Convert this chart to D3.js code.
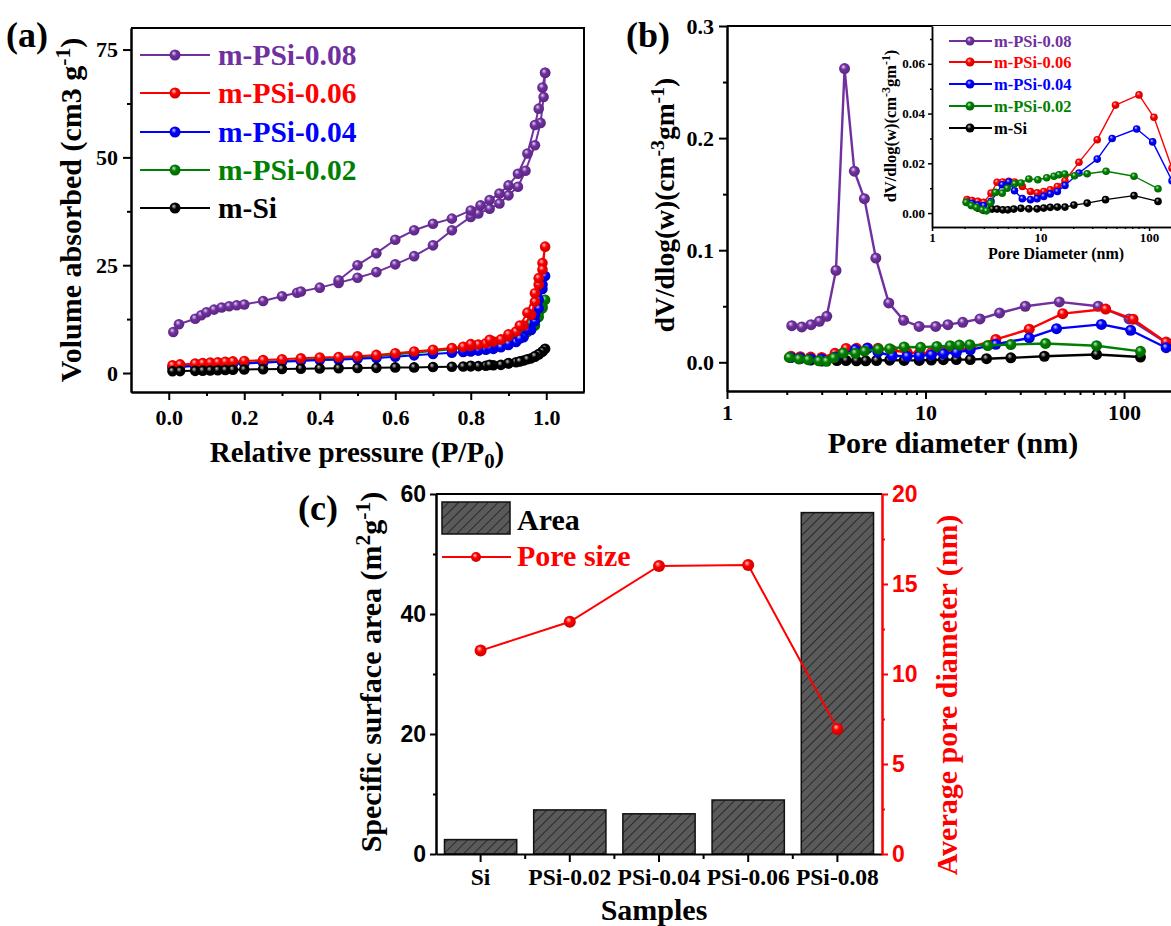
<!DOCTYPE html>
<html><head><meta charset="utf-8">
<script src="https://cdn.jsdelivr.net/npm/d3@7"></script>
<style>body{margin:0;background:#fff;}svg{display:block;}</style>
</head><body>
<svg id="fig" width="1171" height="926"></svg>
<script>
// ================= DATA =================
// ---- Panel (a): N2 adsorption-desorption isotherms ----
const isoLabels = ["m-PSi-0.08", "m-PSi-0.06", "m-PSi-0.04", "m-PSi-0.02", "m-Si"];
const p08AdsP = [0.012,0.027,0.07,0.086,0.10,0.12,0.14,0.16,0.18,0.20,0.25,0.30,0.34,0.35,0.40,0.45,0.50,0.55,0.60,0.65,0.70,0.75,0.80,0.82,0.85,0.876,0.90,0.925,0.945,0.97,0.985,0.993,0.997];
const p08AdsV = [9.5,11.3,12.6,13.4,14.1,14.7,15.2,15.5,15.7,15.9,16.7,17.8,18.6,18.9,19.8,20.9,22.1,23.4,25.2,27.1,29.6,33.1,36.2,37.0,38.1,39.3,41.2,43.2,46.9,52.8,58.0,64.0,69.6];
const p08DesP = [0.997,0.99,0.98,0.97,0.95,0.925,0.90,0.876,0.85,0.826,0.80,0.75,0.70,0.65,0.60,0.55,0.50,0.45];
const p08DesV = [69.6,66.2,61.3,57.5,50.9,46.2,43.5,41.6,40.1,38.9,37.7,35.8,34.6,33.1,30.9,27.8,25.0,21.5];
const lowAdsP = [0.01,0.03,0.07,0.09,0.11,0.13,0.15,0.17,0.20,0.25,0.30,0.35,0.40,0.45,0.50,0.55,0.60,0.65,0.70,0.75,0.78,0.80,0.82,0.84,0.86,0.88,0.90,0.92,0.94,0.96,0.97,0.98,0.99,0.997];
const p06AdsV = [1.8,2.0,2.2,2.3,2.4,2.5,2.6,2.7,2.8,3.0,3.2,3.4,3.6,3.7,3.9,4.2,4.6,5.0,5.4,5.8,6.1,6.3,6.6,6.9,7.3,7.8,8.5,9.6,11.0,13.5,16.5,20.5,25.5,29.3];
const p04AdsV = [1.2,1.4,1.6,1.7,1.8,1.9,2.0,2.1,2.2,2.4,2.6,2.8,3.0,3.1,3.3,3.5,3.8,4.1,4.4,4.7,4.9,5.0,5.2,5.4,5.6,6.0,6.5,7.2,8.3,10.0,12.0,15.0,19.5,22.5];
const p02AdsV = [1.4,1.6,1.8,1.9,2.0,2.1,2.2,2.3,2.4,2.6,2.8,3.0,3.2,3.4,3.6,3.9,4.3,4.7,5.1,5.5,5.8,6.0,6.3,6.6,7.0,7.5,8.2,9.0,10.0,11.5,12.5,14.0,15.5,17.0];
const siAdsV  = [0.4,0.45,0.5,0.55,0.6,0.65,0.7,0.75,0.8,0.9,0.95,1.0,1.05,1.1,1.15,1.2,1.3,1.3,1.4,1.45,1.5,1.55,1.6,1.7,1.8,1.9,2.2,2.5,2.9,3.4,3.8,4.3,5.0,5.6];
const lowDesP = [0.99,0.98,0.97,0.95,0.93,0.90,0.85,0.80];
const p06DesV = [24.0,22.0,18.5,14.0,11.0,9.0,7.7,6.7];
const p04DesV = [20.5,17.0,13.5,10.0,8.0,6.8,5.8,5.2];
const p02DesV = [15.0,13.0,11.0,9.5,8.6,7.8,6.8,6.1];
const siDesV  = [5.0,4.4,3.9,3.2,2.7,2.3,1.9,1.7];
const aXTicks = [0, 0.2, 0.4, 0.6, 0.8, 1.0];
const aXMinor = [0.1, 0.3, 0.5, 0.7, 0.9];
const aYTicks = [0, 25, 50, 75];
const aYMinor = [12.5, 37.5, 62.5];

// ---- Panel (b): pore size distribution ----
const p08D = [2.12,2.38,2.65,2.92,3.18,3.54,3.91,4.38,4.92,5.62,6.53,7.75,9.28,11.25,12.96,15.4,18.8,23.6,31.8,47.2,74.1,106,164];
const p08Dv = [0.0327,0.0316,0.0336,0.0366,0.041,0.082,0.262,0.1705,0.146,0.093,0.053,0.0375,0.032,0.032,0.0336,0.0357,0.0387,0.044,0.050,0.0539,0.050,0.0387,0.0173];
const p06D = [2.1,2.34,2.64,3.0,3.5,3.98,4.49,5.1,5.76,6.8,8.08,9.3,10.7,12.3,14.3,16.8,22.6,33.3,49.1,80.8,111,163];
const p06Dv = [0.0054,0.005,0.0047,0.0043,0.008,0.0124,0.0125,0.0128,0.0125,0.0107,0.0087,0.0081,0.0087,0.0094,0.0107,0.013,0.0204,0.0295,0.0434,0.0475,0.0385,0.018];
const p04D = [2.1,2.34,2.64,3.0,3.5,4.43,5.1,5.76,6.8,8.08,9.3,10.7,12.3,14.3,16.8,22.6,33.3,45.7,76.9,108,163];
const p04Dv = [0.0043,0.0039,0.0032,0.003,0.0047,0.0114,0.0125,0.009,0.0058,0.0054,0.0058,0.0067,0.0077,0.0087,0.0111,0.0161,0.0217,0.030,0.0338,0.0286,0.013];
const p02D = [2.06,2.3,2.56,2.9,3.17,3.45,3.84,4.43,4.93,5.78,6.6,7.8,9.45,11.4,13.3,14.8,16.7,20.6,26.9,40.2,72.7,121];
const p02Dv = [0.0043,0.003,0.0023,0.0013,0.0009,0.004,0.0083,0.008,0.010,0.0118,0.0121,0.0137,0.0134,0.0142,0.0148,0.0154,0.0157,0.015,0.0158,0.0168,0.0148,0.0098];
const siD = [2.1,2.34,2.64,3.0,3.58,3.98,4.49,5.0,5.67,6.6,7.8,9.3,10.7,12.3,14.3,16.8,20.3,26.9,39.7,72.7,121];
const siDv = [0.0043,0.0032,0.002,0.0011,0.0016,0.0016,0.0013,0.0013,0.0016,0.0019,0.0017,0.0017,0.002,0.0023,0.0024,0.0024,0.0032,0.004,0.0054,0.007,0.0047];
const bXTicks = [1, 10, 100];
const bXMinor = [2,3,4,5,6,7,8,9,20,30,40,50,60,70,80,90];
const bYTicks = [0, 0.1, 0.2, 0.3];
const bYMinor = [0.05, 0.15, 0.25];
const iYTicks = [0, 0.02, 0.04, 0.06];
const iYMinor = [0.01, 0.03, 0.05, 0.07];

// ---- Panel (c): surface area and pore size ----
const samples = ["Si", "PSi-0.02", "PSi-0.04", "PSi-0.06", "PSi-0.08"];
const surfaceArea = [2.4, 7.35, 6.7, 9.0, 56.9];
const poreSize = [11.3, 12.9, 16.0, 16.05, 6.95];
const cLTicks = [0, 20, 40, 60];
const cLMinor = [10, 30, 50];
const cRTicks = [0, 5, 10, 15, 20];
const cRMinor = [2.5, 7.5, 12.5, 17.5];

// ================= DRAWING =================
const SERIF = "'Liberation Serif','Times New Roman',serif";
const SANS = "'Liberation Sans',Arial,sans-serif";
const COL = {p08:"#7030a0", p06:"#ff0000", p04:"#0000ff", p02:"#008000", si:"#000000"};
const svg = d3.select("#fig");
svg.append("rect").attr("width",1171).attr("height",926).attr("fill","#fff");
const defs = svg.append("defs");

function ballGrad(id, color){
  const g = defs.append("radialGradient").attr("id",id)
    .attr("cx","45%").attr("cy","45%").attr("r","60%").attr("fx","38%").attr("fy","32%");
  g.append("stop").attr("offset","0%").attr("stop-color", d3.interpolateRgb(color,"#fff")(0.8));
  g.append("stop").attr("offset","40%").attr("stop-color", color);
  g.append("stop").attr("offset","100%").attr("stop-color", d3.color(color).darker(0.7));
}
Object.entries(COL).forEach(([k,c]) => ballGrad("ball-"+k, c));

const hatch = defs.append("pattern").attr("id","hatch").attr("patternUnits","userSpaceOnUse")
  .attr("width",7).attr("height",7).attr("patternTransform","rotate(45)");
hatch.append("rect").attr("width",7).attr("height",7).attr("fill","#5a5a5a");
hatch.append("line").attr("x1",0).attr("y1",0).attr("x2",0).attr("y2",7).attr("stroke","#2a2a2a").attr("stroke-width",2);

function series(g, xs, ys, x, y, key, r, lw){
  const pts = xs.map((v,i)=>[x(v), y(ys[i])]);
  g.append("path").attr("d", d3.line()(pts)).attr("fill","none")
    .attr("stroke",COL[key]).attr("stroke-width",lw).attr("stroke-linejoin","round");
  g.selectAll(null).data(pts).join("circle").attr("cx",d=>d[0]).attr("cy",d=>d[1]).attr("r",r)
    .attr("fill","url(#ball-"+key+")");
}

function styleAxis(g, size, font, color, lw, noText){
  g.attr("font-family",font).attr("font-size",size).attr("font-weight","bold").attr("color",color);
  g.selectAll("line").attr("stroke-width",lw);
  g.select(".domain").attr("stroke-width",lw);
  if(noText) g.selectAll("text").remove();
}

function rich(g, x, y, parts, o){
  const t = g.append("text").attr("x",x).attr("y",y).attr("font-family",o.font||SERIF)
    .attr("font-weight","bold").attr("font-size",o.size).attr("fill",o.color||"#000")
    .attr("text-anchor",o.anchor||"middle");
  if(o.rotate) t.attr("transform",`rotate(${o.rotate},${x},${y})`);
  let shift = 0;
  parts.forEach(p=>{
    const s = t.append("tspan").text(p.t);
    let target = 0, fs = o.size;
    if(p.sup){ target = -0.38*o.size; fs = 0.72*o.size; }
    if(p.sub){ target = 0.2*o.size; fs = 0.72*o.size; }
    s.attr("font-size",fs);
    if(target!==shift){ s.attr("dy", target-shift); shift = target; }
  });
  return t;
}

// ---------- Panel (a) ----------
{
  const x = d3.scaleLinear([-0.1,1.1],[131,584]);
  const y = d3.scaleLinear([-4.4,80],[392,28]);
  const g = svg.append("g");
  const data = g.append("g");
  series(data, p08AdsP.concat(p08DesP), p08AdsV.concat(p08DesV), x, y, "p08", 5.3, 2);
  series(data, lowAdsP.concat(lowDesP), p02AdsV.concat(p02DesV), x, y, "p02", 5.3, 2);
  series(data, lowAdsP.concat(lowDesP), p04AdsV.concat(p04DesV), x, y, "p04", 5.3, 2);
  series(data, lowAdsP.concat(lowDesP), p06AdsV.concat(p06DesV), x, y, "p06", 5.3, 2);
  series(data, lowAdsP.concat(lowDesP), siAdsV.concat(siDesV), x, y, "si", 5.3, 2);

  g.append("path").attr("d",`M${x(-0.1)},${y(80)}H${x(1.1)}V${y(-4.4)}`).attr("fill","none").attr("stroke","#000").attr("stroke-width",2);
  styleAxis(g.append("g").attr("transform",`translate(0,${y(-4.4)})`)
    .call(d3.axisBottom(x).tickValues(aXTicks).tickFormat(d3.format(".1f")).tickSizeInner(8).tickSizeOuter(0).tickPadding(9)), 22, SERIF, "#000", 2);
  styleAxis(g.append("g").attr("transform",`translate(0,${y(-4.4)})`)
    .call(d3.axisBottom(x).tickValues(aXMinor).tickSizeInner(4).tickSizeOuter(0)), 22, SERIF, "#000", 2, true);
  styleAxis(g.append("g").attr("transform",`translate(${x(-0.1)},0)`)
    .call(d3.axisLeft(y).tickValues(aYTicks).tickSizeInner(8).tickSizeOuter(0).tickPadding(5)), 22, SERIF, "#000", 2);
  styleAxis(g.append("g").attr("transform",`translate(${x(-0.1)},0)`)
    .call(d3.axisLeft(y).tickValues(aYMinor).tickSizeInner(4).tickSizeOuter(0)), 22, SERIF, "#000", 2, true);

  // legend
  const keys = ["p08","p06","p04","p02","si"];
  const rows = [55, 93, 132, 170, 208];
  keys.forEach((k,i)=>{
    g.append("line").attr("x1",140).attr("x2",210).attr("y1",rows[i]).attr("y2",rows[i]).attr("stroke",COL[k]).attr("stroke-width",2.2);
    g.append("circle").attr("cx",175).attr("cy",rows[i]).attr("r",5.5).attr("fill","url(#ball-"+k+")");
    g.append("text").attr("x",218).attr("y",rows[i]+10).text(isoLabels[i]).attr("font-family",SERIF)
      .attr("font-weight","bold").attr("font-size",29.5).attr("fill",COL[k]);
  });
  rich(g, 81, 210, [{t:"Volume absorbed (cm3 g"},{t:"-1",sup:true},{t:")"}], {size:30, rotate:-90});
  rich(g, 357, 462, [{t:"Relative pressure "},{t:"(P/P"},{t:"0",sub:true},{t:")"}], {size:29});
  g.append("text").attr("x",6).attr("y",47).text("(a)").attr("font-family",SERIF).attr("font-weight","bold").attr("font-size",36);
}

// ---------- Panel (b) ----------
{
  const x = d3.scaleLog([1,200],[727,1183.8]);
  const y = d3.scaleLinear([-0.0256,0.3],[391,26]);
  const g = svg.append("g");
  const data = g.append("g");
  series(data, p08D, p08Dv, x, y, "p08", 5.5, 2.4);
  series(data, siD, siDv, x, y, "si", 5.5, 2.4);
  series(data, p06D, p06Dv, x, y, "p06", 5.5, 2.4);
  series(data, p04D, p04Dv, x, y, "p04", 5.5, 2.4);
  series(data, p02D, p02Dv, x, y, "p02", 5.5, 2.4);

  g.append("path").attr("d",`M${x(1)},${y(0.3)}H1175`).attr("stroke","#000").attr("stroke-width",2).attr("fill","none");
  styleAxis(g.append("g").attr("transform",`translate(0,${y(-0.0256)})`)
    .call(d3.axisBottom(x).tickValues(bXTicks).tickFormat(d3.format("d")).tickSizeInner(8).tickSizeOuter(0).tickPadding(5)), 22, SERIF, "#000", 2);
  styleAxis(g.append("g").attr("transform",`translate(0,${y(-0.0256)})`)
    .call(d3.axisBottom(x).tickValues(bXMinor).tickSizeInner(4).tickSizeOuter(0)), 22, SERIF, "#000", 2, true);
  styleAxis(g.append("g").attr("transform",`translate(${x(1)},0)`)
    .call(d3.axisLeft(y).tickValues(bYTicks).tickFormat(d3.format(".1f")).tickSizeInner(8).tickSizeOuter(0).tickPadding(5)), 22, SERIF, "#000", 2);
  styleAxis(g.append("g").attr("transform",`translate(${x(1)},0)`)
    .call(d3.axisLeft(y).tickValues(bYMinor).tickSizeInner(4).tickSizeOuter(0)), 22, SERIF, "#000", 2, true);
  rich(g, 674, 205, [{t:"dV/dlog(w)(cm"},{t:"-3",sup:true},{t:"gm"},{t:"-1",sup:true},{t:")"}], {size:27.5, rotate:-90});
  rich(g, 953, 453, [{t:"Pore diameter (nm)"}], {size:30});
  g.append("text").attr("x",626).attr("y",47).text("(b)").attr("font-family",SERIF).attr("font-weight","bold").attr("font-size",36);

  // inset
  const xi = d3.scaleLog([1,200],[932,1181.7]);
  const yi = d3.scaleLinear([-0.0056,0.0752],[227,26]);
  const gi = g.append("g");
  gi.append("rect").attr("x",xi(1)).attr("y",yi(0.0752)).attr("width",250).attr("height",yi(-0.0056)-yi(0.0752)).attr("fill","#fff");
  series(gi, siD, siDv, xi, yi, "si", 3.8, 1.4);
  series(gi, p06D, p06Dv, xi, yi, "p06", 3.8, 1.4);
  series(gi, p04D, p04Dv, xi, yi, "p04", 3.8, 1.4);
  series(gi, p02D, p02Dv, xi, yi, "p02", 3.8, 1.4);
  styleAxis(gi.append("g").attr("transform",`translate(0,${yi(-0.0056)})`)
    .call(d3.axisBottom(xi).tickValues(bXTicks).tickFormat(d3.format("d")).tickSizeInner(4).tickSizeOuter(0).tickPadding(2)), 13, SERIF, "#000", 1.5);
  styleAxis(gi.append("g").attr("transform",`translate(0,${yi(-0.0056)})`)
    .call(d3.axisBottom(xi).tickValues(bXMinor).tickSizeInner(2).tickSizeOuter(0)), 13, SERIF, "#000", 1.5, true);
  styleAxis(gi.append("g").attr("transform",`translate(${xi(1)},0)`)
    .call(d3.axisLeft(yi).tickValues(iYTicks).tickFormat(d3.format(".2f")).tickSizeInner(4).tickSizeOuter(0).tickPadding(3)), 13, SERIF, "#000", 1.5);
  styleAxis(gi.append("g").attr("transform",`translate(${xi(1)},0)`)
    .call(d3.axisLeft(yi).tickValues(iYMinor).tickSizeInner(2).tickSizeOuter(0)), 13, SERIF, "#000", 1.5, true);
  rich(gi, 896, 126, [{t:"dV/dlog(w)(cm"},{t:"-3",sup:true},{t:"gm"},{t:"-1",sup:true},{t:")"}], {size:16.5, rotate:-90});
  rich(gi, 1056, 259, [{t:"Pore Diameter (nm)"}], {size:16});
  const keys = ["p08","p06","p04","p02","si"];
  const rows = [41, 62, 84, 106, 128];
  keys.forEach((k,i)=>{
    gi.append("line").attr("x1",949).attr("x2",992).attr("y1",rows[i]).attr("y2",rows[i]).attr("stroke",COL[k]).attr("stroke-width",2);
    gi.append("circle").attr("cx",970).attr("cy",rows[i]).attr("r",4.5).attr("fill","url(#ball-"+k+")");
    gi.append("text").attr("x",994).attr("y",rows[i]+5.5).text(isoLabels[i]).attr("font-family",SERIF)
      .attr("font-weight","bold").attr("font-size",16.5).attr("fill",COL[k]);
  });
}

// ---------- Panel (c) ----------
{
  const x = d3.scaleBand(samples,[436,882]).paddingInner(0.19).paddingOuter(0.095);
  const yl = d3.scaleLinear([0,60],[854,494]);
  const yr = d3.scaleLinear([0,20],[854,494]);
  const g = svg.append("g");
  g.selectAll(null).data(samples).join("rect")
    .attr("x",d=>x(d)).attr("width",x.bandwidth())
    .attr("y",(d,i)=>yl(surfaceArea[i])).attr("height",(d,i)=>yl(0)-yl(surfaceArea[i]))
    .attr("fill","url(#hatch)").attr("stroke","#111").attr("stroke-width",1.5);
  const pts = samples.map((d,i)=>[x(d)+x.bandwidth()/2, yr(poreSize[i])]);
  g.append("path").attr("d",d3.line()(pts)).attr("fill","none").attr("stroke","#ff0000").attr("stroke-width",2);
  g.selectAll(null).data(pts).join("circle").attr("cx",d=>d[0]).attr("cy",d=>d[1]).attr("r",6).attr("fill","url(#ball-p06)");

  g.append("line").attr("x1",436).attr("x2",882).attr("y1",494).attr("y2",494).attr("stroke","#000").attr("stroke-width",2);
  const bx = g.append("g").attr("transform","translate(0,854)")
    .call(d3.axisBottom(x).tickSizeInner(8).tickSizeOuter(0).tickPadding(6));
  styleAxis(bx, 23.5, SERIF, "#000", 2);
  const bounds = samples.slice(1).map(d=>x(d) - x.step()*x.paddingInner()/2);
  g.selectAll(null).data(bounds).join("line").attr("x1",d=>d).attr("x2",d=>d).attr("y1",854).attr("y2",859)
    .attr("stroke","#000").attr("stroke-width",2);
  styleAxis(g.append("g").attr("transform","translate(436,0)")
    .call(d3.axisLeft(yl).tickValues(cLTicks).tickSizeInner(6).tickSizeOuter(0).tickPadding(4)), 23, SANS, "#000", 2);
  styleAxis(g.append("g").attr("transform","translate(436,0)")
    .call(d3.axisLeft(yl).tickValues(cLMinor).tickSizeInner(3).tickSizeOuter(0)), 23, SANS, "#000", 2, true);
  styleAxis(g.append("g").attr("transform","translate(882,0)")
    .call(d3.axisRight(yr).tickValues(cRTicks).tickSizeInner(6).tickSizeOuter(0).tickPadding(4)), 23, SANS, "#ff0000", 2);
  styleAxis(g.append("g").attr("transform","translate(882,0)")
    .call(d3.axisRight(yr).tickValues(cRMinor).tickSizeInner(3).tickSizeOuter(0)), 23, SANS, "#ff0000", 2, true);

  // legend
  g.append("rect").attr("x",442).attr("y",502).attr("width",68).attr("height",32).attr("fill","url(#hatch)").attr("stroke","#111").attr("stroke-width",1.5);
  g.append("text").attr("x",517).attr("y",530).text("Area").attr("font-family",SERIF).attr("font-weight","bold").attr("font-size",30);
  g.append("line").attr("x1",442).attr("x2",511).attr("y1",557).attr("y2",557).attr("stroke","#ff0000").attr("stroke-width",2);
  g.append("circle").attr("cx",476).attr("cy",557).attr("r",5).attr("fill","url(#ball-p06)");
  g.append("text").attr("x",517).attr("y",566).text("Pore size").attr("font-family",SERIF).attr("font-weight","bold").attr("font-size",30).attr("fill","#ff0000");

  rich(g, 381, 672, [{t:"Specific surface area (m"},{t:"2",sup:true},{t:"g"},{t:"-1",sup:true},{t:")"}], {size:30, rotate:-90});
  rich(g, 957, 695, [{t:"Average pore diameter (nm)"}], {size:30, rotate:-90, color:"#ff0000"});
  rich(g, 654, 920, [{t:"Samples"}], {size:30});
  g.append("text").attr("x",298).attr("y",520).text("(c)").attr("font-family",SERIF).attr("font-weight","bold").attr("font-size",36);
}
</script>
</body></html>
